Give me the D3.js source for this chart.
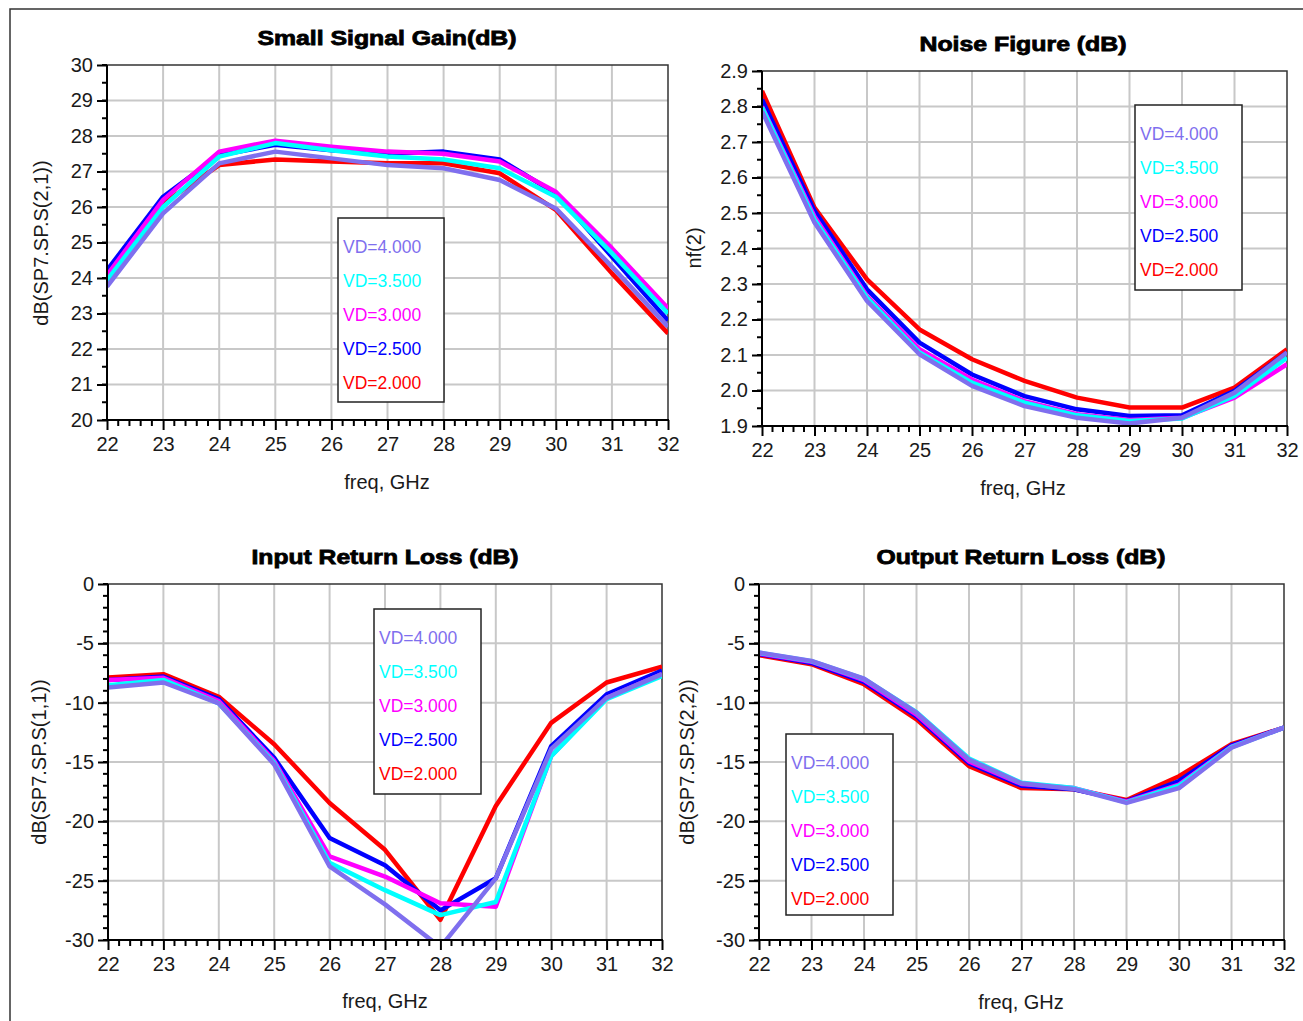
<!DOCTYPE html>
<html><head><meta charset="utf-8">
<script src="https://cdn.jsdelivr.net/npm/d3@7"></script>
<style>
html,body{margin:0;padding:0;background:#fff;}
svg{display:block;}
text{font-family:"Liberation Sans",Arial,sans-serif;}
</style></head>
<body>
<svg id="c" width="1303" height="1021"></svg>
<script>
// ---------- data ----------
const freq = [22,23,24,25,26,27,28,29,30,31,32];
const seriesNames = ["VD=4.000","VD=3.500","VD=3.000","VD=2.500","VD=2.000"];
const seriesColors = ["#7F6FEE","#00FFFF","#FF00FF","#0000FF","#FF0000"];

// Small signal gain dB(S21)
const gainVD4 = [23.76,25.82,27.23,27.56,27.37,27.18,27.09,26.76,25.96,24.32,22.63];
const gainVD35 = [23.94,26.00,27.42,27.80,27.60,27.42,27.34,27.09,26.29,24.70,23.00];
const gainVD3 = [24.08,26.20,27.56,27.87,27.70,27.56,27.50,27.28,26.43,24.84,23.15];
const gainVD25 = [24.22,26.29,27.46,27.75,27.60,27.50,27.56,27.34,26.38,24.60,22.80];
const gainVD2 = [24.04,26.10,27.18,27.34,27.28,27.23,27.23,26.95,25.92,24.13,22.44];

// Noise figure nf(2)
const nfVD4 = [2.787,2.473,2.252,2.102,2.013,1.956,1.923,1.907,1.923,1.994,2.107];
const nfVD35 = [2.797,2.482,2.261,2.107,2.022,1.966,1.930,1.914,1.921,1.985,2.092];
const nfVD3 = [2.800,2.490,2.266,2.116,2.031,1.970,1.933,1.917,1.923,1.980,2.074];
const nfVD25 = [2.820,2.506,2.285,2.135,2.045,1.984,1.947,1.928,1.930,1.999,2.107];
const nfVD2 = [2.844,2.515,2.313,2.172,2.088,2.027,1.980,1.952,1.952,2.008,2.116];

// Input return loss dB(S11)
const s11VD4 = [-8.73,-8.30,-10.06,-15.2,-23.8,-27.0,-30.6,-24.8,-13.9,-9.6,-7.6];
const s11VD35 = [-8.54,-8.08,-10.06,-15.07,-23.5,-25.8,-27.9,-26.8,-14.5,-9.7,-7.75];
const s11VD3 = [-8.08,-7.90,-9.86,-14.9,-22.96,-24.65,-26.9,-27.2,-14.5,-9.6,-7.6];
const s11VD25 = [-8.08,-7.80,-9.70,-14.65,-21.4,-23.7,-27.5,-24.8,-13.66,-9.3,-7.3];
const s11VD2 = [-7.89,-7.60,-9.50,-13.5,-18.45,-22.4,-28.3,-18.7,-11.7,-8.3,-6.96];

// Output return loss dB(S22)
const s22VD4 = [-5.77,-6.48,-7.97,-10.85,-14.8,-16.8,-17.27,-18.45,-17.2,-13.8,-12.1];
const s22VD35 = [-5.80,-6.50,-8.00,-10.80,-14.7,-16.75,-17.2,-18.4,-17.0,-13.75,-12.1];
const s22VD3 = [-5.85,-6.55,-8.10,-11.0,-14.95,-16.85,-17.2,-18.35,-16.9,-13.7,-12.1];
const s22VD25 = [-5.90,-6.65,-8.25,-11.15,-15.1,-17.0,-17.3,-18.3,-16.6,-13.6,-12.1];
const s22VD2 = [-6.00,-6.76,-8.45,-11.4,-15.35,-17.2,-17.3,-18.2,-16.2,-13.5,-12.1];

const xTicks = [22,23,24,25,26,27,28,29,30,31,32];
const gainTicks = [20,21,22,23,24,25,26,27,28,29,30];
const nfTicks = [1.9,2.0,2.1,2.2,2.3,2.4,2.5,2.6,2.7,2.8,2.9];
const rlTicks = [-30,-25,-20,-15,-10,-5,0];

// ---------- layout ----------
const svg = d3.select("#c");
svg.append("path").attr("d","M10,1021 L10,9 L1303,9").attr("fill","none").attr("stroke","#333").attr("stroke-width",1.5);

const hy = f => (d => f(d).replace("\u2212","-"));

const panels = [
  {title:"Small Signal Gain(dB)", tx:387, ty:45, tw:259, ylabel:"dB(SP7.SP.S(2,1))", ylx:48, yly:243,
   x0:107,x1:668,y0:65,y1:420, ydom:[20,30], yticks:gainTicks, yminor:0.5, yfmt:hy(d3.format("d")),
   data:[gainVD4,gainVD35,gainVD3,gainVD25,gainVD2], xl:387, xly:489, leg:{x:338,y:218,w:106,h:184}},
  {title:"Noise Figure (dB)", tx:1023, ty:51, tw:207, ylabel:"nf(2)", ylx:701, yly:248,
   x0:762,x1:1287,y0:71,y1:426, ydom:[1.9,2.9], yticks:nfTicks, yminor:0.05, yfmt:hy(d3.format(".1f")),
   data:[nfVD4,nfVD35,nfVD3,nfVD25,nfVD2], xl:1023, xly:495, leg:{x:1135,y:105,w:107,h:185}},
  {title:"Input Return Loss (dB)", tx:385, ty:564, tw:267, ylabel:"dB(SP7.SP.S(1,1))", ylx:46, yly:762,
   x0:108,x1:662,y0:584,y1:940, ydom:[-30,0], yticks:rlTicks, yminor:1, yfmt:hy(d3.format("d")),
   data:[s11VD4,s11VD35,s11VD3,s11VD25,s11VD2], xl:385, xly:1008, leg:{x:374,y:609,w:107,h:185}},
  {title:"Output Return Loss (dB)", tx:1021, ty:564, tw:289, ylabel:"dB(SP7.SP.S(2,2))", ylx:694, yly:762,
   x0:759,x1:1284,y0:584,y1:940, ydom:[-30,0], yticks:rlTicks, yminor:1, yfmt:hy(d3.format("d")),
   data:[s22VD4,s22VD35,s22VD3,s22VD25,s22VD2], xl:1021, xly:1009, leg:{x:786,y:734,w:107,h:181}}
];

const drawOrder = [4,3,2,1,0]; // red first, purple last

panels.forEach((p,pi)=>{
  const x = d3.scaleLinear().domain([22,32]).range([p.x0,p.x1]);
  const y = d3.scaleLinear().domain(p.ydom).range([p.y1,p.y0]);
  const g = svg.append("g");

  // grid
  g.append("g").selectAll("line").data(xTicks.slice(1,-1)).join("line")
    .attr("x1",d=>x(d)).attr("x2",d=>x(d)).attr("y1",p.y0).attr("y2",p.y1)
    .attr("stroke","#c8c8c8").attr("stroke-width",2);
  g.append("g").selectAll("line").data(p.yticks.slice(1,-1)).join("line")
    .attr("y1",d=>y(d)).attr("y2",d=>y(d)).attr("x1",p.x0).attr("x2",p.x1)
    .attr("stroke","#c8c8c8").attr("stroke-width",2);

  // frame top/right
  g.append("path").attr("d",`M${p.x0},${p.y0} L${p.x1},${p.y0} L${p.x1},${p.y1}`)
    .attr("fill","none").attr("stroke","#333").attr("stroke-width",1.5);

  // curves
  const clipId = "clip"+pi;
  svg.append("defs").append("clipPath").attr("id",clipId).append("rect")
    .attr("x",p.x0).attr("y",p.y0).attr("width",p.x1-p.x0).attr("height",p.y1-p.y0);
  const line = d3.line().x((d,i)=>x(freq[i])).y(d=>y(d));
  const cg = g.append("g").attr("clip-path",`url(#${clipId})`);
  drawOrder.forEach(si=>{
    cg.append("path").attr("d",line(p.data[si])).attr("fill","none")
      .attr("stroke",seriesColors[si]).attr("stroke-width",4.5).attr("stroke-linejoin","round");
  });

  // axes
  const minorX = d3.range(22,32.0001,0.2).filter(v=>Math.abs(v-Math.round(v))>1e-6);
  const xAxis = d3.axisBottom(x).tickValues(xTicks).tickSize(10).tickPadding(7).tickFormat(d3.format("d"));
  const xa = g.append("g").attr("transform",`translate(0,${p.y1})`).call(xAxis);
  xa.select(".domain").remove();
  xa.append("line").attr("x1",p.x0).attr("x2",p.x1+1).attr("stroke","#000").attr("stroke-width",2);
  xa.selectAll(".tick line").attr("stroke","#000").attr("stroke-width",2);
  xa.selectAll(".tick text").attr("fill","#1a1a1a").attr("font-size",20).attr("font-family","Liberation Sans, Arial, sans-serif");
  xa.append("g").selectAll("line").data(minorX).join("line")
    .attr("x1",d=>x(d)).attr("x2",d=>x(d)).attr("y1",0).attr("y2",6).attr("stroke","#000").attr("stroke-width",2);

  const [ya0,ya1] = p.ydom;
  const nMinor = Math.round((ya1-ya0)/p.yminor);
  const minorY = d3.range(0,nMinor+1).map(k=>ya0+k*p.yminor);
  const yAxis = d3.axisLeft(y).tickValues(p.yticks).tickSize(10).tickPadding(4).tickFormat(p.yfmt);
  const ya = g.append("g").attr("transform",`translate(${p.x0},0)`).call(yAxis);
  ya.select(".domain").remove();
  ya.append("line").attr("y1",p.y0).attr("y2",p.y1+1).attr("stroke","#000").attr("stroke-width",2);
  ya.selectAll(".tick line").attr("stroke","#000").attr("stroke-width",2);
  ya.selectAll(".tick text").attr("fill","#1a1a1a").attr("font-size",20).attr("font-family","Liberation Sans, Arial, sans-serif");
  ya.append("g").selectAll("line").data(minorY).join("line")
    .attr("y1",d=>y(d)).attr("y2",d=>y(d)).attr("x1",0).attr("x2",-5).attr("stroke","#000").attr("stroke-width",2);

  // title
  svg.append("text").attr("x",p.tx).attr("y",p.ty).attr("text-anchor","middle")
    .attr("font-size",20).attr("font-weight","bold").attr("fill","#000")
    .attr("stroke","#000").attr("stroke-width",0.8)
    .attr("textLength",p.tw).attr("lengthAdjust","spacingAndGlyphs").text(p.title);

  // axis labels
  svg.append("text").attr("x",p.xl).attr("y",p.xly).attr("text-anchor","middle")
    .attr("font-size",20).attr("fill","#1a1a1a").text("freq, GHz");
  svg.append("text").attr("transform",`translate(${p.ylx},${p.yly}) rotate(-90)`).attr("text-anchor","middle")
    .attr("font-size",20).attr("fill","#1a1a1a").text(p.ylabel);

  // legend
  const L = p.leg;
  svg.append("rect").attr("x",L.x).attr("y",L.y).attr("width",L.w).attr("height",L.h)
    .attr("fill","#fff").attr("stroke","#222").attr("stroke-width",1.5);
  seriesNames.forEach((n,i)=>{
    svg.append("text").attr("x",L.x+5).attr("y",L.y+35+i*34).attr("font-size",17.5)
      .attr("fill",seriesColors[i]).text(n);
  });
});
</script>
</body></html>
